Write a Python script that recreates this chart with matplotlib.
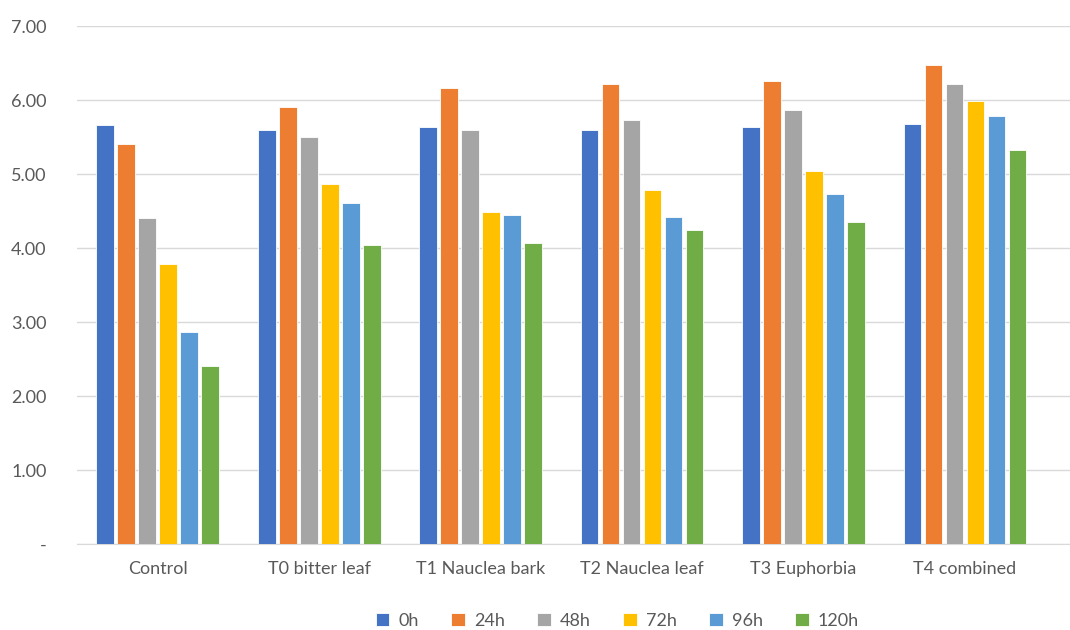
import numpy as np
import matplotlib.pyplot as plt

plt.rcParams['font.family'] = ['Lato', 'DejaVu Sans']

categories = ["Control", "T0 bitter leaf", "T1 Nauclea bark", "T2 Nauclea leaf",
              "T3 Euphorbia", "T4 combined"]
series_names = ["0h", "24h", "48h", "72h", "96h", "120h"]

h0 = [5.66, 5.60, 5.63, 5.60, 5.63, 5.68]
h24 = [5.40, 5.91, 6.16, 6.21, 6.26, 6.47]
h48 = [4.40, 5.50, 5.60, 5.73, 5.86, 6.21]
h72 = [3.79, 4.86, 4.48, 4.78, 5.04, 5.99]
h96 = [2.87, 4.61, 4.45, 4.42, 4.73, 5.78]
h120 = [2.40, 4.04, 4.07, 4.25, 4.35, 5.32]

values = [h0, h24, h48, h72, h96, h120]
colors = ["#4472C4", "#ED7D31", "#A5A5A5", "#FFC000", "#5B9BD5", "#70AD47"]

fig = plt.figure(figsize=(10.7, 6.3), dpi=100)
ax = fig.add_axes([0.072, 0.1365, 0.928, 0.8222])

x = np.arange(len(categories))
step = 0.13
for i, (name, vals) in enumerate(zip(series_names, values)):
    ax.bar(x + (i - 2.5) * step, vals, width=step * 0.84, color=colors[i],
           edgecolor="white", linewidth=0.6, label=name, zorder=3)

ax.set_ylim(0, 7)
ax.set_xlim(-0.5, 5.65)
ax.set_yticks(range(8))
ax.set_yticklabels(["-"] + ["%.2f" % v for v in range(1, 8)])
ax.set_xticks(x)
ax.set_xticklabels(categories)
ax.grid(axis="y", color="#D9D9D9", linewidth=1, zorder=0)
for s in ["top", "right", "left"]:
    ax.spines[s].set_visible(False)
ax.spines["bottom"].set_color("#D9D9D9")
ax.tick_params(axis="both", length=0, labelsize=13, labelcolor="#595959")
ax.tick_params(axis="y", pad=22)
ax.tick_params(axis="x", pad=12)

fig.legend(loc="center", bbox_to_anchor=(0.577, 0.015), ncol=6, frameon=False,
           fontsize=13, labelcolor="#595959", handlelength=0.75, handleheight=0.75,
           handletextpad=0.5, columnspacing=1.8)

fig.savefig("out.png", dpi=100)
